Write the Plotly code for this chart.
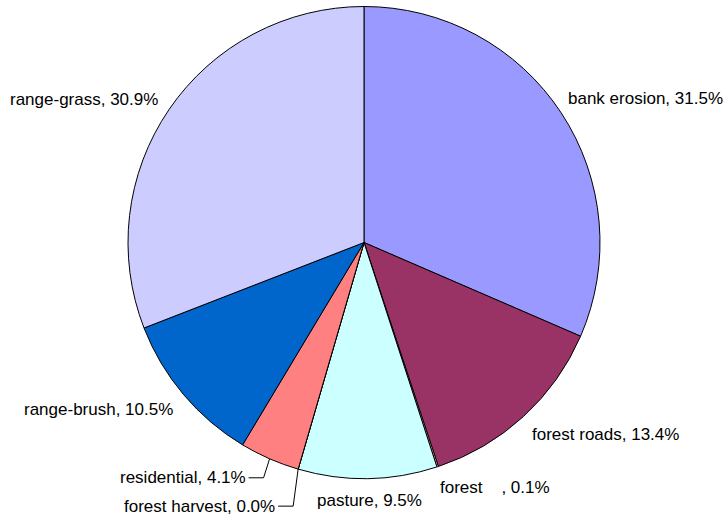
import math
import plotly.graph_objects as go

# Sediment source shares (%), clockwise from 12 o'clock
sources = ["bank erosion", "forest roads", "forest\u00a0\u00a0\u00a0\u00a0", "pasture",
           "forest harvest", "residential", "range-brush", "range-grass"]
shares = [31.5, 13.4, 0.1, 9.5, 0.0, 4.1, 10.5, 30.9]
colors = ["#9999FF", "#993366", "#FFFFCC", "#CCFFFF",
          "#660066", "#FF8080", "#0066CC", "#CCCCFF"]

W, H = 724, 517
CX, CY, R = 364, 242.5, 236  # pie centre / radius in pixels

# label placement relative to the slice's mid-angle rim point (pixels)
# (dx, dy, xanchor, leader)
label_style = [
    (5, -14, "left", None),
    (7, 18, "left", None),
    (0, 21, "left", None),
    (2, 22, "center", None),
    (-21, 37, "right", (5, 15)),
    (-22, 19, "right", (4, 15)),
    (-9, 15, "right", None),
    (-9, -10, "right", None),
]

fig = go.Figure(go.Pie(
    labels=sources,
    values=shares,
    sort=False,
    direction="clockwise",
    rotation=0,
    textinfo="none",
    hoverinfo="label+percent",
    marker=dict(colors=colors, line=dict(color="#000000", width=1)),
    domain=dict(x=[(CX - R) / W, (CX + R) / W],
                y=[(H - CY - R) / H, (H - CY + R) / H]),
    showlegend=False,
))

total = sum(shares)
cum = 0.0
annotations, shapes = [], []
for name, val, (dx, dy, anchor, leader) in zip(sources, shares, label_style):
    mid = (cum + val / 2) / total * 2 * math.pi
    cum += val
    ex = CX + R * math.sin(mid)
    ey = CY - R * math.cos(mid)
    lx, ly = ex + dx, ey + dy
    annotations.append(dict(
        x=lx / W, y=1 - ly / H, xref="paper", yref="paper",
        text=f"{name}, {val / total * 100:.1f}%", showarrow=False,
        xanchor=anchor, yanchor="middle",
        font=dict(family="Liberation Sans, Arial", size=17, color="#000000"),
    ))
    if leader:
        gap, run = leader
        x0 = lx + 1
        x1 = x0 + run
        path = (f"M {x0 / W},{1 - ly / H} L {x1 / W},{1 - ly / H} "
                f"L {ex / W},{1 - ey / H}")
        shapes.append(dict(type="path", path=path, xref="paper", yref="paper",
                           line=dict(color="#000000", width=1)))

fig.update_layout(
    width=W, height=H,
    margin=dict(l=0, r=0, t=0, b=0),
    paper_bgcolor="#FFFFFF",
    plot_bgcolor="#FFFFFF",
    annotations=annotations,
    shapes=shapes,
)

fig.write_html("out.html")
